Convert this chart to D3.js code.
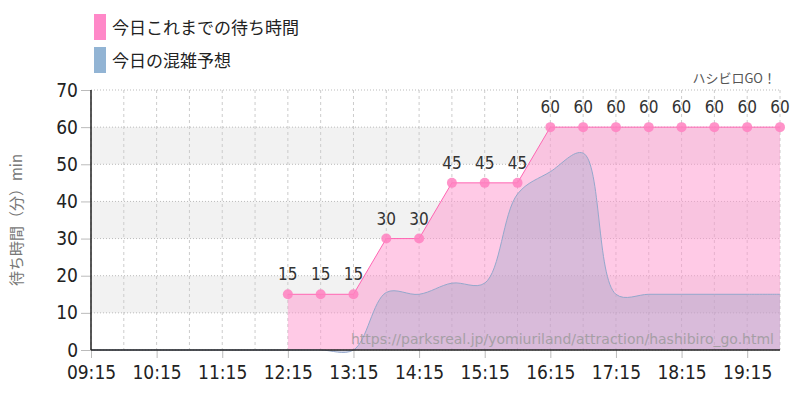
<!DOCTYPE html>
<html><head><meta charset="utf-8">
<script src="https://cdn.jsdelivr.net/npm/d3@7"></script>
<style>
body{margin:0;background:#fff;}
.num{font-family:"Liberation Sans Narrow","DejaVu Sans Condensed",sans-serif;font-stretch:condensed;}
.jp{font-family:"Noto Sans CJK JP",sans-serif;}
</style></head><body>
<svg id="c" width="800" height="400"></svg>
<script>
var times = ["09:15","09:45","10:15","10:45","11:15","11:45","12:15","12:45","13:15","13:45","14:15","14:45","15:15","15:45","16:15","16:45","17:15","17:45","18:15","18:45","19:15","19:45"];
var tickLabels = ["09:15","10:15","11:15","12:15","13:15","14:15","15:15","16:15","17:15","18:15","19:15"];
var actualTimes = ["12:15","12:45","13:15","13:45","14:15","14:45","15:15","15:45","16:15","16:45","17:15","17:45","18:15","18:45","19:15","19:45"];
var actualWait = [15,15,15,30,30,45,45,45,60,60,60,60,60,60,60,60];
var forecast = [0,0,0,0,0,0,0,0,0,15.5,15,18,18,42,48,53,15,15,15,15,15,15];
var legendLabels = ["今日これまでの待ち時間","今日の混雑予想"];
var yTicks = [0,10,20,30,40,50,60,70];

var svg = d3.select("#c"),
	pLeft = 91, pRight = 780, pTop = 90, pBottom = 350;
var x = d3.scalePoint().domain(times).range([pLeft, pRight]);
var y = d3.scaleLinear().domain([0, 70]).range([pBottom, pTop]);

// bands
[10, 30, 50].forEach(function (v) {
	svg.append("rect").attr("x", pLeft).attr("width", pRight - pLeft)
		.attr("y", y(v + 10)).attr("height", y(v) - y(v + 10)).attr("fill", "#f2f2f2");
});

// grid
svg.append("g").selectAll("line").data(times).enter().append("line")
	.attr("x1", function (d) { return x(d); }).attr("x2", function (d) { return x(d); })
	.attr("y1", pTop).attr("y2", pBottom)
	.attr("stroke", "#ccc").attr("stroke-dasharray", "3,3");
svg.append("g").selectAll("line").data(yTicks).enter().append("line")
	.attr("x1", pLeft).attr("x2", pRight)
	.attr("y1", function (d) { return y(d); }).attr("y2", function (d) { return y(d); })
	.attr("stroke", "#bbb").attr("stroke-dasharray", "1,2");

// actual area
var aData = actualTimes.map(function (t, i) { return {t: t, v: actualWait[i]}; });
svg.append("path").datum(aData)
	.attr("d", d3.area().x(function (d) { return x(d.t); }).y0(pBottom).y1(function (d) { return y(d.v); }))
	.attr("fill", "rgba(255,150,205,0.5)");
svg.append("path").datum(aData)
	.attr("d", d3.line().x(function (d) { return x(d.t); }).y(function (d) { return y(d.v); }))
	.attr("fill", "none").attr("stroke", "#ff66b3").attr("stroke-width", 1);

// forecast area
var fData = times.map(function (t, i) { return {t: t, v: forecast[i]}; });
svg.append("path").datum(fData)
	.attr("d", d3.area().curve(d3.curveCatmullRom).x(function (d) { return x(d.t); }).y0(pBottom).y1(function (d) { return y(d.v); }))
	.attr("fill", "rgba(160,165,200,0.4)");
svg.append("path").datum(fData)
	.attr("d", d3.line().curve(d3.curveCatmullRom).x(function (d) { return x(d.t); }).y(function (d) { return y(d.v); }))
	.attr("fill", "none").attr("stroke", "#94a8cc").attr("stroke-width", 1);

// points & labels
svg.append("g").selectAll("circle").data(aData).enter().append("circle")
	.attr("cx", function (d) { return x(d.t); }).attr("cy", function (d) { return y(d.v); })
	.attr("r", 5).attr("fill", "#ff80c0").attr("opacity", 0.85);
svg.append("g").selectAll("text").data(aData).enter().append("text").attr("class", "num")
	.attr("x", function (d) { return x(d.t); }).attr("y", function (d) { return y(d.v) - 14; })
	.attr("text-anchor", "middle").attr("font-size", 17).attr("fill", "#333")
	.text(function (d) { return d.v; });

// axes
var gx = svg.append("g").attr("transform", "translate(0," + pBottom + ")")
	.call(d3.axisBottom(x).tickValues(tickLabels).tickSize(8).tickPadding(8));
var gy = svg.append("g").attr("transform", "translate(" + pLeft + ",0)")
	.call(d3.axisLeft(y).tickValues(yTicks).tickSize(10).tickPadding(3));
[gx, gy].forEach(function (g) {
	g.selectAll("text").attr("class", "num").attr("font-size", 19).attr("fill", "#222");
	g.selectAll(".tick line").attr("stroke", "#bbb");
	g.select(".domain").remove();
});
svg.append("line").attr("x1", pLeft).attr("x2", pRight).attr("y1", pBottom).attr("y2", pBottom).attr("stroke", "#222").attr("stroke-width", 1.5);
svg.append("line").attr("x1", pLeft).attr("x2", pLeft).attr("y1", pTop).attr("y2", pBottom).attr("stroke", "#222").attr("stroke-width", 1.5);

// y title
svg.append("text").attr("class", "jp").attr("transform", "translate(22,220) rotate(-90)")
	.attr("text-anchor", "middle").attr("font-size", 15).attr("fill", "#777").text("待ち時間（分）min");

// legend
var colors = ["#ff88c8", "#92b4d4"];
legendLabels.forEach(function (l, i) {
	svg.append("rect").attr("x", 94).attr("y", 14 + i * 33).attr("width", 12).attr("height", 26).attr("fill", colors[i]);
	svg.append("text").attr("class", "jp").attr("x", 112).attr("y", 34 + i * 33)
		.attr("font-size", 17).attr("fill", "#222").text(l);
});

svg.append("text").attr("class", "jp").attr("x", 776).attr("y", 83).attr("text-anchor", "end")
	.attr("font-size", 13).attr("fill", "#555").text("ハシビロGO！");
svg.append("text").attr("x", 774).attr("y", 344).attr("text-anchor", "end")
	.attr("font-family", "DejaVu Sans,sans-serif").attr("font-size", 14).attr("fill", "#999").attr("opacity", 0.8)
	.text("https://parksreal.jp/yomiuriland/attraction/hashibiro_go.html");
</script></body></html>
